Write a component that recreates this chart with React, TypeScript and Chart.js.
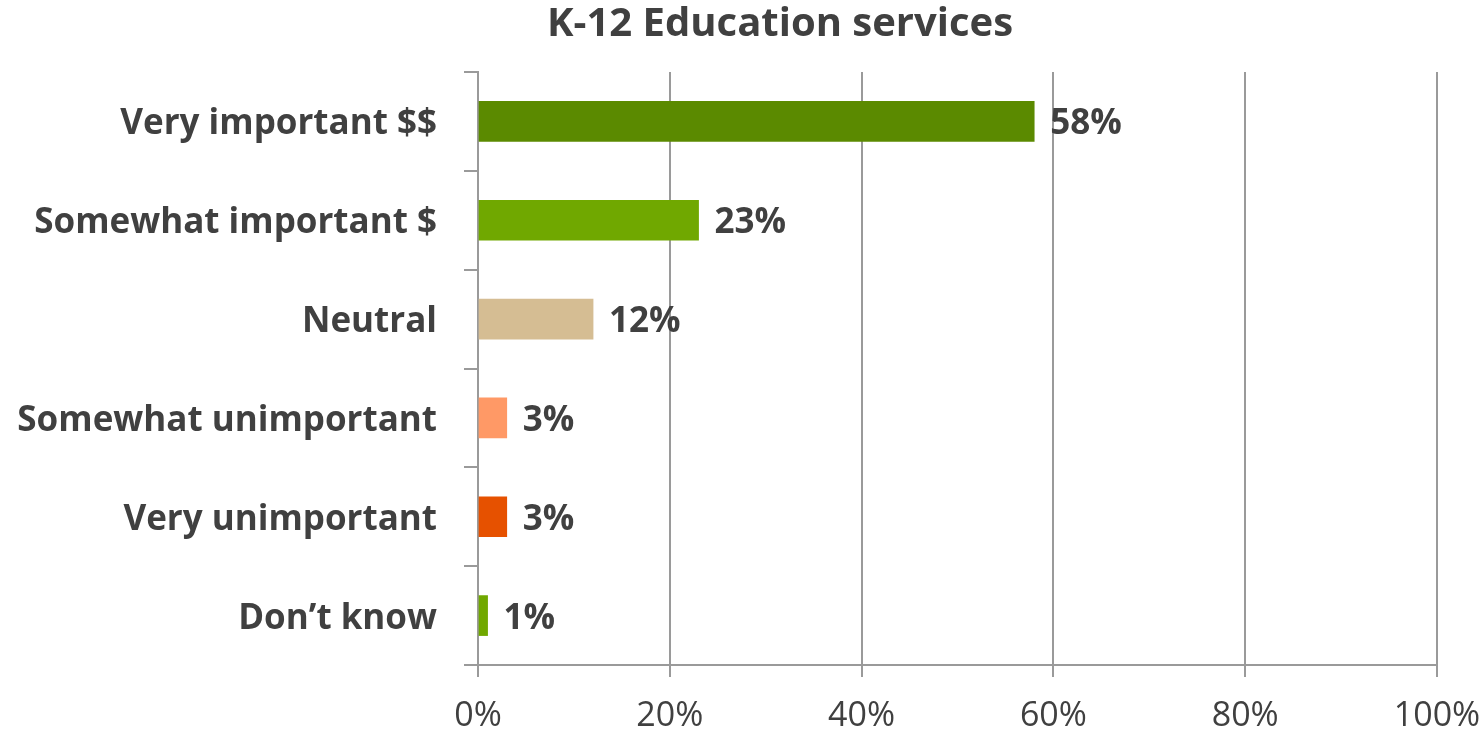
import React, { useEffect, useRef } from "react";
import { Chart, registerables } from "chart.js";

Chart.register(...registerables);

const TITLE = "K-12 Education services";
const categories = [
  "Very important $$",
  "Somewhat important $",
  "Neutral",
  "Somewhat unimportant",
  "Very unimportant",
  "Don\u2019t know",
];
const values = [58, 23, 12, 3, 3, 1];
const barColors = ["#5B8A00", "#70A800", "#D5BD93", "#FF9966", "#E65100", "#70A800"];
const xTicks = [0, 20, 40, 60, 80, 100];

const FONT = "'Open Sans'";
const TEXT = "#404040";
const GRID = "#9A9A9A";

export default function App() {
  const ref = useRef<HTMLCanvasElement | null>(null);

  useEffect(() => {
    if (!ref.current) return;
    const valueLabels = {
      id: "valueLabels",
      afterDatasetsDraw(chart: any) {
        const ctx = chart.ctx;
        const meta = chart.getDatasetMeta(0);
        ctx.save();
        ctx.font = `bold 35px ${FONT}`;
        ctx.fillStyle = TEXT;
        ctx.textAlign = "left";
        ctx.textBaseline = "middle";
        meta.data.forEach((bar: any, i: number) => {
          ctx.fillText(values[i] + "%", bar.x + 16, bar.y + 3);
        });
        ctx.restore();
      },
    };
    const titlePlugin = {
      id: "customTitle",
      afterDraw(chart: any) {
        const ctx = chart.ctx;
        ctx.save();
        ctx.font = `bold 40px ${FONT}`;
        ctx.fillStyle = TEXT;
        ctx.textAlign = "center";
        ctx.textBaseline = "alphabetic";
        ctx.fillText(TITLE, chart.width * 0.526, 36);
        ctx.restore();
      },
    };
    const chart = new Chart(ref.current, {
      type: "bar",
      data: {
        labels: categories,
        datasets: [
          {
            data: values,
            backgroundColor: barColors,
            barThickness: 40,
            borderWidth: 0,
          },
        ],
      },
      options: {
        indexAxis: "y",
        animation: false,
        responsive: false,
        layout: { padding: { top: 72, right: 46, left: 0, bottom: 0 } },
        plugins: {
          legend: { display: false },
          title: { display: false },
          tooltip: { enabled: false },
        },
        scales: {
          x: {
            min: 0,
            max: 100,
            afterBuildTicks: (scale: any) => {
              scale.ticks = xTicks.map((v) => ({ value: v }));
            },
            afterFit: (scale: any) => {
              scale.height = 65;
              scale.paddingLeft = 0;
              scale.paddingRight = 0;
            },
            grid: {
              color: GRID,
              lineWidth: 2,
              tickLength: 12,
              drawTicks: true,
            },
            border: { color: GRID, width: 2 },
            ticks: {
              font: { family: FONT, size: 34 },
              color: TEXT,
              padding: 19,
              callback: (v: any) => v + "%",
              maxRotation: 0,
            },
          },
          y: {
            afterFit: (scale: any) => {
              scale.width = 478;
              scale.paddingTop = 0;
              scale.paddingBottom = 0;
            },
            grid: {
              drawOnChartArea: false,
              color: GRID,
              lineWidth: 2,
              tickLength: 14,
              offset: true,
            },
            border: { color: GRID, width: 2 },
            ticks: {
              font: { family: FONT, size: 35, weight: "bold" },
              color: TEXT,
              padding: 27,
              labelOffset: 3,
            },
          },
        },
      },
      plugins: [valueLabels, titlePlugin],
    });
    return () => chart.destroy();
  }, []);

  return (
    <div style={{ position: "fixed", left: 0, top: 0, width: 1483, height: 730, background: "#fff" }}>
      <canvas ref={ref} width={1483} height={730} style={{ width: 1483, height: 730 }} />
    </div>
  );
}
